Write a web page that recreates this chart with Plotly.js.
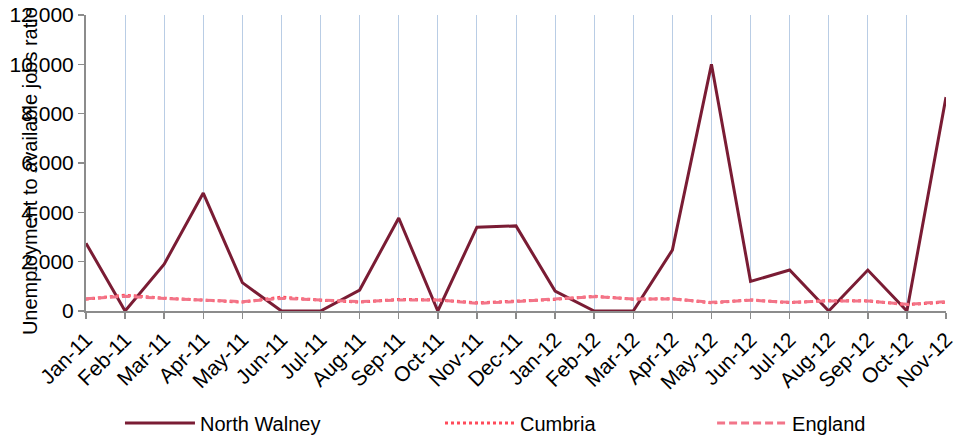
<!DOCTYPE html>
<html>
<head>
<meta charset="utf-8">
<script src="https://cdn.plot.ly/plotly-3.0.1.min.js"></script>
<style>html,body{margin:0;padding:0;background:#fff;}#chart{width:966px;height:436px;}</style>
</head>
<body>
<div id="chart"></div>
<script>
const months = ["Jan-11","Feb-11","Mar-11","Apr-11","May-11","Jun-11","Jul-11","Aug-11","Sep-11","Oct-11","Nov-11","Dec-11",
                "Jan-12","Feb-12","Mar-12","Apr-12","May-12","Jun-12","Jul-12","Aug-12","Sep-12","Oct-12","Nov-12"];
const northWalney = [2750,0,1900,4780,1150,0,0,850,3770,0,3400,3450,810,0,0,2470,10000,1200,1660,0,1660,0,8670];
const cumbria = [480,640,520,440,360,560,440,360,470,450,330,400,470,600,480,500,330,450,340,420,410,260,360];
const england = [500,600,510,460,380,510,450,380,450,450,310,380,490,580,490,490,350,440,350,410,410,270,380];

const font = "Liberation Sans, Arial, sans-serif";
const traces = [
  {x: months, y: northWalney, name: "North Walney", type: "scatter", mode: "lines",
   line: {color: "#7A1C34", width: 3}, legend: "legend"},
  {x: months, y: cumbria, name: "Cumbria", type: "scatter", mode: "lines",
   line: {color: "#FF4A5A", width: 3, dash: "3px,3px"}, legend: "legend2"},
  {x: months, y: england, name: "England", type: "scatter", mode: "lines",
   line: {color: "#F27589", width: 3, dash: "8px,4px"}, legend: "legend3"}
];
const legBase = {orientation: "h", yanchor: "middle", y: -0.378, xanchor: "left", itemwidth: 70,
  font: {family: font, size: 20, color: "#000"}, bgcolor: "rgba(0,0,0,0)", borderwidth: 0};
const layout = {
  width: 966, height: 436,
  margin: {l: 86, r: 20, t: 15, b: 125, autoexpand: false},
  paper_bgcolor: "#fff", plot_bgcolor: "#fff",
  font: {family: font, size: 20, color: "#000"},
  showlegend: true,
  legend: Object.assign({}, legBase, {x: 0.0395}),
  legend2: Object.assign({}, legBase, {x: 0.4116}),
  legend3: Object.assign({}, legBase, {x: 0.728}),
  xaxis: {type: "category", range: [0, months.length - 1], tickangle: -45,
    showgrid: true, gridcolor: "#B9CDE5", gridwidth: 1,
    showline: true, linecolor: "#8C8C8C", linewidth: 2,
    ticks: "outside", ticklen: 6, tickcolor: "#8C8C8C", tickwidth: 1.5,
    tickfont: {family: font, size: 21, color: "#000"}, zeroline: false, fixedrange: true, automargin: false},
  yaxis: {range: [0, 12000], dtick: 2000, tickformat: ",d", showgrid: false,
    showline: true, linecolor: "#8C8C8C", linewidth: 2,
    ticks: "outside", ticklen: 6, tickcolor: "#8C8C8C", tickwidth: 1.5,
    tickfont: {family: font, size: 21, color: "#000"}, zeroline: false, fixedrange: true, automargin: false},
  annotations: [{text: "Unemployment to available jobs ratio", xref: "paper", yref: "paper",
    x: -0.065, y: 0.473, xanchor: "center", yanchor: "middle", textangle: -90, showarrow: false,
    font: {family: font, size: 20, color: "#000"}}]
};
Plotly.newPlot("chart", traces, layout, {displayModeBar: false, staticPlot: true});
</script>
</body>
</html>
